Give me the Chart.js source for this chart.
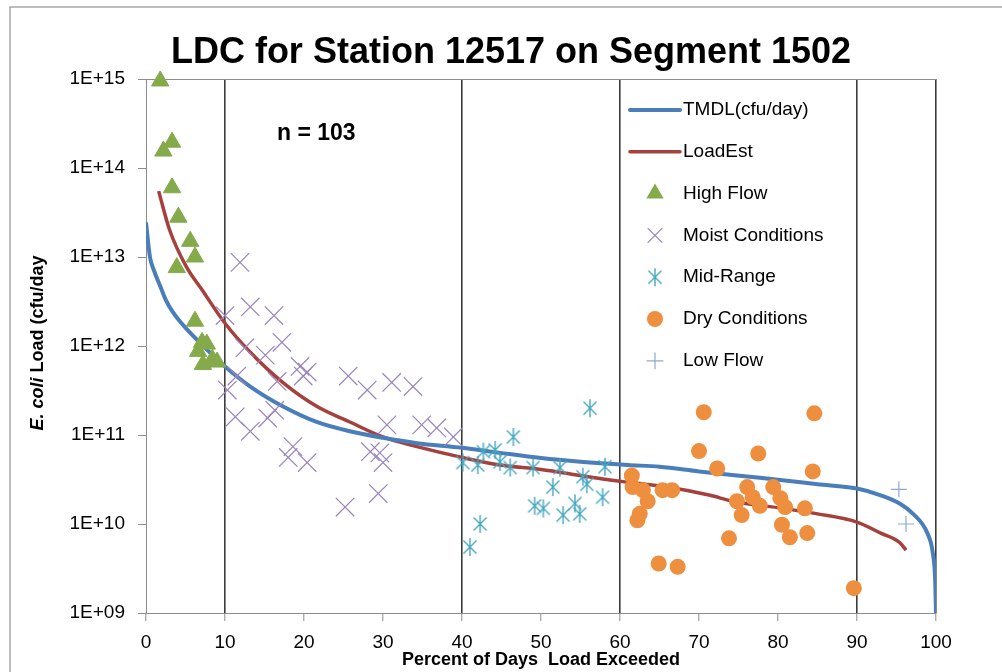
<!DOCTYPE html>
<html>
<head>
<meta charset="utf-8">
<title>LDC for Station 12517 on Segment 1502</title>
<script src="https://cdn.jsdelivr.net/npm/chart.js@4/dist/chart.umd.min.js"></script>
<style>
  html, body { margin: 0; padding: 0; background: #fff; }
  #wrap { width: 1002px; height: 672px; }
</style>
</head>
<body>
<div id="wrap"><canvas id="ldc-chart" width="1002" height="672"></canvas></div>
<script>
// values (percent of days exceeded, cfu/day)
const tmdlPct = [0, 0.5, 1, 1.8, 2.5, 3.4, 4.5, 5.6, 7.7, 10, 13.2, 17.3, 21.6, 25.8, 30, 34.3, 40, 44.8, 50, 55, 61, 65, 70, 77.7, 85, 90, 93, 95.4, 97.1, 98.9, 99.6, 99.9, 100];
const tmdlLoad = [2.45e13, 1.0e13, 7.1e12, 4.7e12, 3.3e12, 2.4e12, 1.8e12, 1.4e12, 9.1e11, 5.9e11, 3.5e11, 2.1e11, 1.4e11, 1.1e11, 9.3e10, 8.1e10, 7.2e10, 6.3e10, 5.5e10, 5.0e10, 4.6e10, 4.4e10, 3.9e10, 3.3e10, 2.8e10, 2.5e10, 2.1e10, 1.7e10, 1.3e10, 7.9e9, 4.7e9, 2.3e9, 1.0e9];

const loadEstPct = [1.6, 3.0, 5.1, 7.0, 10, 13.2, 17.3, 21.6, 25.8, 30, 34.3, 40, 44.8, 50, 55, 57.8, 61.6, 66, 71.4, 74.3, 80.6, 85, 90, 93, 95.4, 96.2];
const loadEstLoad = [5.5e13, 2.0e13, 7.8e12, 4.4e12, 1.8e12, 8.5e11, 3.9e11, 2.1e11, 1.4e11, 9.5e10, 7.4e10, 5.6e10, 4.6e10, 4.1e10, 3.5e10, 3.2e10, 2.9e10, 2.6e10, 2.1e10, 1.8e10, 1.5e10, 1.3e10, 1.05e10, 7.9e9, 6.2e9, 5.1e9];

const highFlowPct = [1.8, 3.3, 2.2, 3.3, 4.1, 5.6, 6.2, 3.9, 6.2, 7.1, 7.7, 6.6, 8.4, 7.2, 9.0];
const highFlowLoad = [9.5e14, 1.95e14, 1.55e14, 6.0e13, 2.8e13, 1.5e13, 1.0e13, 7.6e12, 1.9e12, 1.1e12, 1.05e12, 8.7e11, 7.1e11, 6.2e11, 6.6e11];

const moistPct = [11.9, 10.0, 13.2, 16.2, 12.5, 17.2, 15.1, 19.5, 20.4, 19.9, 16.6, 11.5, 10.3, 11.3, 13.2, 15.4, 16.3, 18.6, 18.0, 20.4, 25.6, 28.0, 31.1, 33.8, 30.5, 28.4, 29.6, 30.0, 34.9, 36.8, 38.9, 29.4, 25.2];
const moistLoad = [8.7e12, 2.2e12, 2.75e12, 2.2e12, 9.5e11, 1.1e12, 7.9e11, 5.9e11, 5.1e11, 4.6e11, 4.0e11, 4.6e11, 3.2e11, 1.6e11, 1.1e11, 1.55e11, 1.9e11, 7.4e10, 5.6e10, 4.9e10, 4.6e11, 3.2e11, 3.9e11, 3.5e11, 1.3e11, 6.5e10, 6.3e10, 4.9e10, 1.3e11, 1.2e11, 9.5e10, 2.2e10, 1.55e10];

const midRangePct = [56.2, 46.5, 40.1, 42.0, 42.7, 44.2, 44.8, 46.1, 49.0, 52.4, 51.5, 55.3, 55.8, 58.1, 57.8, 49.2, 50.3, 52.8, 54.3, 54.9, 42.3, 41.0];
const midRangeLoad = [2.0e11, 9.5e10, 4.9e10, 4.6e10, 6.5e10, 6.8e10, 5.0e10, 4.3e10, 4.3e10, 4.3e10, 2.6e10, 3.4e10, 2.8e10, 4.4e10, 2.0e10, 1.6e10, 1.5e10, 1.26e10, 1.7e10, 1.3e10, 1.0e10, 5.5e9];

const dryPct = [70.6, 84.6, 70.0, 77.5, 72.3, 84.4, 61.5, 61.6, 62.9, 63.5, 62.5, 62.2, 65.4, 66.6, 76.1, 74.8, 76.8, 77.7, 75.4, 79.4, 80.3, 80.9, 83.4, 80.5, 81.5, 83.7, 73.8, 64.9, 67.3, 89.6];
const dryLoad = [1.8e11, 1.75e11, 6.6e10, 6.2e10, 4.2e10, 3.9e10, 3.5e10, 2.6e10, 2.4e10, 1.8e10, 1.3e10, 1.1e10, 2.4e10, 2.4e10, 2.6e10, 1.8e10, 2.0e10, 1.6e10, 1.26e10, 2.6e10, 1.95e10, 1.55e10, 1.5e10, 9.8e9, 7.1e9, 7.9e9, 6.9e9, 3.6e9, 3.3e9, 1.9e9];

const lowFlowPct = [95.3, 96.2];
const lowFlowLoad = [2.45e10, 1.0e10];

const yTickValues = [1e9, 1e10, 1e11, 1e12, 1e13, 1e14, 1e15];
const zoneLines = [10, 40, 60, 90, 100];

const chartTitle = 'LDC for Station 12517 on Segment 1502';
const sampleNote = 'n = 103';
const xTitle = 'Percent of Days  Load Exceeded';
const yTitleItalic = 'E. coli';
const yTitleRest = ' Load (cfu/day';

const colors = {
    tmdl: '#4a7ebb',
    loadEst: '#a6403c',
    high: '#84aa4a',
    moist: '#9a84bc',
    mid: '#45a7c0',
    dry: '#ee8e3f',
    low: '#8fa9d4',
    zone: '#3c3c3c',
    axis: '#8c8c8c'
};

const font = '"Liberation Sans", Arial, sans-serif';

function toPoints(xs, ys) {
    return xs.map(function (x, i) { return {x: x, y: ys[i]}; });
}

// Excel style asterisk: a vertical bar plus an X
function makeAsterisk(color) {
    let c = document.createElement('canvas');
    c.width = 20;
    c.height = 20;
    let g = c.getContext('2d');
    g.strokeStyle = color;
    g.lineWidth = 1.4;
    g.beginPath();
    g.moveTo(10, 1); g.lineTo(10, 19);
    g.moveTo(3.5, 3.5); g.lineTo(16.5, 16.5);
    g.moveTo(16.5, 3.5); g.lineTo(3.5, 16.5);
    g.stroke();
    return c;
}
const asterisk = makeAsterisk(colors.mid);

const legendItems = [
    {label: 'TMDL(cfu/day)', kind: 'line', color: colors.tmdl, width: 4},
    {label: 'LoadEst', kind: 'line', color: colors.loadEst, width: 3.5},
    {label: 'High Flow', kind: 'triangle', color: colors.high},
    {label: 'Moist Conditions', kind: 'x', color: colors.moist},
    {label: 'Mid-Range', kind: 'asterisk', color: colors.mid},
    {label: 'Dry Conditions', kind: 'circle', color: colors.dry},
    {label: 'Low Flow', kind: 'plus', color: colors.low}
];

function drawLegendMark(ctx, item, cx, cy) {
    ctx.strokeStyle = item.color;
    ctx.fillStyle = item.color;
    ctx.beginPath();
    if (item.kind === 'line') {
        ctx.lineWidth = item.width;
        ctx.lineCap = 'round';
        ctx.moveTo(cx - 25, cy);
        ctx.lineTo(cx + 25, cy);
        ctx.stroke();
    } else if (item.kind === 'triangle') {
        ctx.moveTo(cx, cy - 10);
        ctx.lineTo(cx + 8.7, cy + 5);
        ctx.lineTo(cx - 8.7, cy + 5);
        ctx.closePath();
        ctx.fill();
    } else if (item.kind === 'x') {
        ctx.lineWidth = 1.2;
        ctx.moveTo(cx - 7, cy - 7); ctx.lineTo(cx + 7, cy + 7);
        ctx.moveTo(cx + 7, cy - 7); ctx.lineTo(cx - 7, cy + 7);
        ctx.stroke();
    } else if (item.kind === 'asterisk') {
        ctx.drawImage(asterisk, cx - 10, cy - 10);
    } else if (item.kind === 'circle') {
        ctx.arc(cx, cy, 8, 0, Math.PI * 2);
        ctx.fill();
    } else if (item.kind === 'plus') {
        ctx.lineWidth = 1.2;
        ctx.moveTo(cx - 8, cy); ctx.lineTo(cx + 8, cy);
        ctx.moveTo(cx, cy - 8); ctx.lineTo(cx, cy + 8);
        ctx.stroke();
    }
}

const ldcDecorations = {
    id: 'ldcDecorations',
    beforeDraw(chart) {
        let ctx = chart.ctx;
        ctx.save();
        ctx.fillStyle = '#fff';
        ctx.fillRect(0, 0, chart.width, chart.height);
        ctx.strokeStyle = '#a8a8a8';
        ctx.lineWidth = 1.5;
        ctx.strokeRect(10, 7, chart.width + 20, chart.height + 20);
        ctx.restore();
    },
    beforeDatasetsDraw(chart) {
        let ctx = chart.ctx;
        let area = chart.chartArea;
        ctx.save();
        ctx.strokeStyle = colors.axis;
        ctx.lineWidth = 1;
        ctx.beginPath();
        ctx.moveTo(area.left, area.top + 0.5);
        ctx.lineTo(area.right, area.top + 0.5);
        ctx.stroke();
        ctx.restore();
    },
    afterDraw(chart) {
        let ctx = chart.ctx;
        ctx.save();
        ctx.fillStyle = '#000';
        ctx.textAlign = 'center';
        ctx.textBaseline = 'alphabetic';
        ctx.font = 'bold 36px ' + font;
        ctx.fillText(chartTitle, 511, 63);

        ctx.textAlign = 'left';
        ctx.font = 'bold 23px ' + font;
        ctx.fillText(sampleNote, 277, 140);

        // y axis title, E. coli in italics
        ctx.translate(38, 343);
        ctx.rotate(-Math.PI / 2);
        ctx.textBaseline = 'middle';
        ctx.font = 'italic bold 18px ' + font;
        let w1 = ctx.measureText(yTitleItalic).width;
        ctx.font = 'bold 18px ' + font;
        let w2 = ctx.measureText(yTitleRest).width;
        let x0 = -(w1 + w2) / 2;
        ctx.font = 'italic bold 18px ' + font;
        ctx.fillText(yTitleItalic, x0, 0);
        ctx.font = 'bold 18px ' + font;
        ctx.fillText(yTitleRest, x0 + w1, 0);
        ctx.restore();

        ctx.save();
        ctx.font = '19px ' + font;
        ctx.textBaseline = 'middle';
        ctx.textAlign = 'left';
        legendItems.forEach(function (item, i) {
            let cy = 110 + i * 41.8;
            drawLegendMark(ctx, item, 655, cy);
            ctx.fillStyle = '#000';
            ctx.fillText(item.label, 683, cy);
        });
        ctx.restore();
    }
};

function buildLdcChart() {
    let markerBase = {showLine: false, clip: false, order: 0};
    return {
        type: 'scatter',
        data: {
            datasets: [
                {
                    label: 'TMDL(cfu/day)', data: toPoints(tmdlPct, tmdlLoad), showLine: true,
                    borderColor: colors.tmdl, borderWidth: 4, pointRadius: 0,
                    cubicInterpolationMode: 'monotone', order: 1
                },
                {
                    label: 'LoadEst', data: toPoints(loadEstPct, loadEstLoad), showLine: true,
                    borderColor: colors.loadEst, borderWidth: 3.5, pointRadius: 0,
                    cubicInterpolationMode: 'monotone', order: 1
                },
                Object.assign({
                    label: 'High Flow', data: toPoints(highFlowPct, highFlowLoad),
                    pointStyle: 'triangle', pointRadius: 10,
                    backgroundColor: colors.high, borderColor: colors.high, borderWidth: 1
                }, markerBase),
                Object.assign({
                    label: 'Moist Conditions', data: toPoints(moistPct, moistLoad),
                    pointStyle: 'crossRot', pointRadius: 13,
                    borderColor: colors.moist, borderWidth: 1.2
                }, markerBase),
                Object.assign({
                    label: 'Mid-Range', data: toPoints(midRangePct, midRangeLoad),
                    pointStyle: asterisk, pointRadius: 10
                }, markerBase),
                Object.assign({
                    label: 'Dry Conditions', data: toPoints(dryPct, dryLoad),
                    pointStyle: 'circle', pointRadius: 8,
                    backgroundColor: colors.dry, borderColor: colors.dry, borderWidth: 0
                }, markerBase),
                Object.assign({
                    label: 'Low Flow', data: toPoints(lowFlowPct, lowFlowLoad),
                    pointStyle: 'cross', pointRadius: 8,
                    borderColor: colors.low, borderWidth: 1.2
                }, markerBase)
            ]
        },
        options: {
            responsive: false,
            animation: false,
            events: [],
            layout: {padding: {left: 0, right: 66, top: 79, bottom: 0}},
            plugins: {
                legend: {display: false},
                title: {display: false},
                tooltip: {enabled: false}
            },
            scales: {
                x: {
                    type: 'linear',
                    min: 0,
                    max: 100,
                    afterFit: function (scale) { scale.height = 59; },
                    ticks: {
                        stepSize: 10,
                        color: '#000',
                        padding: 10,
                        font: {family: font, size: 19}
                    },
                    grid: {
                        color: function (c) {
                            return zoneLines.indexOf(c.tick.value) >= 0 ? colors.zone : 'transparent';
                        },
                        lineWidth: 1.6,
                        tickColor: colors.axis,
                        tickLength: 8,
                        tickWidth: 1
                    },
                    border: {color: colors.axis, width: 1},
                    title: {
                        display: true,
                        text: xTitle,
                        color: '#000',
                        font: {family: font, size: 18, weight: 'bold'},
                        padding: {top: 0, bottom: 1}
                    }
                },
                y: {
                    type: 'logarithmic',
                    min: 1e9,
                    max: 1e15,
                    afterFit: function (scale) { scale.width = 146; },
                    afterBuildTicks: function (scale) {
                        scale.ticks = yTickValues.map(function (v) { return {value: v}; });
                    },
                    ticks: {
                        color: '#000',
                        padding: 13,
                        font: {family: font, size: 19},
                        callback: function (v) {
                            return '1E+' + String(Math.round(Math.log10(v))).padStart(2, '0');
                        }
                    },
                    grid: {
                        drawOnChartArea: false,
                        tickColor: colors.axis,
                        tickLength: 8
                    },
                    border: {color: colors.axis, width: 1}
                }
            }
        },
        plugins: [ldcDecorations]
    };
}

let canvas = document.getElementById('ldc-chart');
let ldcChart = new Chart(canvas.getContext('2d'), buildLdcChart());
</script>
</body>
</html>
